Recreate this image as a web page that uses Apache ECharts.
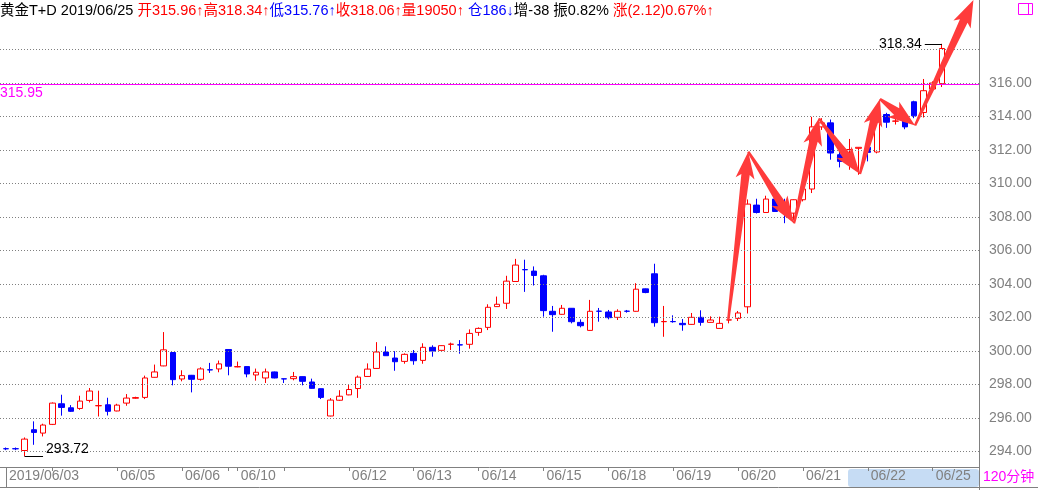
<!DOCTYPE html>
<html><head><meta charset="utf-8">
<script src="https://cdn.jsdelivr.net/npm/echarts@6/dist/echarts.min.js"></script>
<style>html,body{margin:0;padding:0;background:#fff}#c{width:1038px;height:490px}</style>
</head><body><div id="c"></div>
<script>
// ---- data (120-minute bars, 黄金T+D) ----
const opens = [294.17,294.17,294.06,295.30,295.10,295.62,296.85,296.61,296.57,297.05,
296.73,296.79,296.42,296.89,297.18,297.23,298.43,299.11,299.91,298.33,
298.55,298.31,298.88,298.93,300.09,299.05,299.07,298.57,298.39,298.75,
298.34,298.35,298.47,298.15,297.75,296.12,297.06,297.38,297.76,298.48,
298.96,299.94,299.58,299.38,299.86,299.44,300.22,300.04,300.40,300.37,
300.40,301.11,301.41,302.65,302.85,304.15,304.86,304.77,304.49,302.37,
302.19,302.55,301.71,301.23,302.38,302.33,302.01,302.38,302.37,303.71,
304.61,301.75,301.76,301.65,301.59,302.01,301.71,301.35,301.85,301.95,
302.64,308.71,308.27,309.07,308.50,308.23,309.03,309.67,313.38,313.62,
311.72,312.02,312.10,312.16,311.88,314.12,313.72,313.74,314.88,314.24,
315.64,315.96];
const closes = [294.16,294.16,294.74,295.14,295.58,296.89,296.63,296.40,297.01,297.61,
296.74,296.40,296.77,297.19,297.22,298.39,298.75,300.07,298.29,298.53,
298.31,298.93,298.87,299.23,299.09,299.07,298.63,298.73,298.75,298.39,
298.33,298.47,298.19,297.77,297.23,297.07,297.30,297.70,298.44,298.92,
299.94,299.72,299.36,299.80,299.42,300.22,300.00,300.32,300.41,300.36,
301.05,301.35,302.61,302.79,304.17,305.13,304.85,304.51,302.41,302.17,
302.55,301.75,301.51,302.37,302.37,301.99,302.37,302.37,303.69,303.49,
301.69,301.76,301.75,301.57,302.01,301.71,301.85,301.65,301.86,302.27,
308.77,308.27,309.07,308.33,308.30,309.03,309.67,313.38,313.62,311.82,
311.32,312.03,312.16,311.86,314.10,313.66,313.73,313.38,314.04,315.54,
316.00,318.06];
const lows = [294.08,294.08,293.72,294.40,294.90,295.58,296.14,296.36,296.49,296.93,
296.09,296.15,296.40,296.73,297.15,297.13,298.41,299.09,297.95,298.19,
297.53,298.23,298.69,298.73,298.55,299.03,298.43,298.23,298.09,298.37,
298.09,298.25,297.95,297.75,297.13,296.10,297.02,297.36,297.20,298.46,
298.94,299.70,298.82,299.24,299.18,299.24,299.66,300.02,300.06,299.84,
300.14,300.91,301.25,302.63,302.51,304.13,303.53,303.91,302.05,301.15,
302.17,301.65,301.41,301.21,301.75,301.89,301.85,302.29,302.35,303.45,
301.45,300.85,301.69,301.21,301.57,301.51,301.69,301.33,301.65,301.79,
302.24,308.21,308.25,308.31,307.63,307.83,308.93,309.43,313.20,311.42,
310.96,310.82,310.52,311.32,311.80,313.32,313.52,313.24,313.90,313.94,
315.58,315.76];
const highs = [294.24,294.24,294.84,295.80,295.66,296.93,297.39,296.77,297.33,297.79,
297.63,297.21,296.85,297.43,297.27,298.53,299.19,301.13,299.93,298.85,
298.57,299.03,299.29,299.43,300.10,299.37,299.08,298.95,298.95,298.77,
298.35,298.75,298.48,298.35,297.76,297.19,297.66,298.02,298.54,299.26,
300.53,300.28,299.99,299.86,300.06,300.46,300.34,300.34,300.50,300.65,
301.29,301.41,302.79,303.25,304.49,305.50,305.45,305.05,304.55,302.69,
302.75,302.56,301.89,303.05,302.57,302.45,302.49,302.45,304.05,303.73,
305.21,302.69,302.13,301.91,302.27,302.43,302.07,302.05,302.05,302.39,
309.05,309.09,309.27,309.09,309.09,309.05,309.69,313.98,313.90,313.82,
311.92,312.66,312.18,312.18,314.30,314.22,313.92,313.76,314.94,316.24,
316.10,318.34];

const yTicks = [294,296,298,300,302,304,306,308,310,312,314,316,318];
const xTickIdx = [0,5,12,19,24,25,30,37,44,51,58,65,72,79,86,93,100];
const xLabelIdx = [0,12,19,25,37,44,51,58,65,72,79,86,93,100];
const xLabelText = ['2019/06/03','06/05','06/06','06/10','06/12','06/13','06/14','06/15','06/18','06/19','06/20','06/21','06/22','06/25'];
const refPrice = 315.95;
// hand-drawn arrow path (bar index, price)
const arrowPts = [[77.94,301.85],[80.10,311.90],[85.03,307.62],[87.73,313.89],[92.15,310.57],[94.31,315.04],[98.10,313.46],[104.40,320.95]];
const headerName = '黄金T+D 2019/06/25 ';
const headerVol = '量19050↑';
const headerOI = '仓186↓';
const headerMisc = '增-38 振0.82% ';
const headerChg = '涨(2.12)0.67%↑';

// ---- build ----
const FONT = "'Liberation Sans','Noto Sans CJK SC',sans-serif";
const candles = opens.map((o,i)=>[i,o,closes[i],lows[i],highs[i]]);
const n = candles.length, last = n-1;
const lastClose = closes[last];
let maxI=0, minI=0;
highs.forEach((h,i)=>{ if(h>highs[maxI]) maxI=i; });
lows.forEach((l,i)=>{ if(l<lows[minI]) minI=i; });
const segs = [];
for (let i=0;i<arrowPts.length-1;i++) segs.push([arrowPts[i][0],arrowPts[i][1],arrowPts[i+1][0],arrowPts[i+1][1]]);
const labelMap = {}; xLabelIdx.forEach((v,i)=>labelMap[v]=xLabelText[i]);
const f2 = v=>v.toFixed(2);

const gridLines = yTicks.map(v=>({
  yAxis: v,
  lineStyle:{color:'#808080', type:[1,2], width:1},
  label:{show: Math.abs(v-lastClose)>0.8, position:'end', distance:10, formatter: f2(v), color:'#808080', fontSize:14, fontFamily:FONT, padding:[3,0,0,0]}
}));

const markData = gridLines.concat([
  { yAxis: refPrice, lineStyle:{color:'#FF00FF', type:'solid', width:1},
    label:{show:true, position:'insideStartBottom', distance:[0,2], formatter:f2(refPrice), color:'#FF00FF', fontSize:14, fontFamily:FONT}},
  { yAxis: lastClose, lineStyle:{opacity:0},
    label:{show:true, position:'end', distance:2, formatter:f2(lastClose), color:'#FF0000', fontSize:14, fontFamily:FONT,
      backgroundColor:'#EDF3EC', padding:[2,5,1,9]}},
  [ {coord:[maxI-1.85, highs[maxI]], lineStyle:{color:'#000', type:'solid', width:1},
      label:{show:true, position:'start', distance:3, formatter:f2(highs[maxI]), color:'#000', fontSize:14, fontFamily:FONT}},
    {coord:[maxI, highs[maxI]]} ],
  [ {coord:[minI, lows[minI]], lineStyle:{color:'#000', type:'solid', width:1},
      label:{show:true, position:'end', distance:3, formatter:f2(lows[minI])+'\n ', lineHeight:15, color:'#000', fontSize:14, fontFamily:FONT}},
    {coord:[minI+2.0, lows[minI]]} ]
]);

const HF = 14.5;
const chart = echarts.init(document.getElementById('c'), null, {renderer:'canvas'});
chart.setOption({
  animation:false,
  backgroundColor:'#fff',
  title:{
    left:0, top:3, padding:0,
    text: '{k|'+headerName+'}{r|开'+f2(opens[last])+'↑高'+f2(highs[last])+'↑}{b|低'+f2(lows[last])+'↑}{r|收'+f2(lastClose)+'↑'+headerVol+'} {b|'+headerOI+'}{k|'+headerMisc+'}{r|'+headerChg+'}',
    textStyle:{fontSize:HF, fontFamily:FONT, fontWeight:'normal', color:'#000', lineHeight:16,
      rich:{
        k:{color:'#000', fontSize:HF, fontFamily:FONT},
        r:{color:'#FF0000', fontSize:HF, fontFamily:FONT},
        b:{color:'#0000FF', fontSize:HF, fontFamily:FONT}
      }}
  },
  grid:{left:0, right:59, top:0, bottom:23, containLabel:false},
  xAxis:{
    type:'value', min:-0.647, max:105.0,
    splitLine:{show:false},
    axisLine:{show:true, onZero:false, lineStyle:{color:'#808080', width:1}},
    axisTick:{show:true, customValues:xTickIdx, length:4, lineStyle:{color:'#808080'}},
    axisLabel:{show:true, customValues:xLabelIdx, formatter:v=>labelMap[v]||'', color:'#808080',
      fontSize:14, fontFamily:FONT, align:'left', margin:2, padding:[0,0,0,3]}
  },
  yAxis:{type:'value', min:293.075, max:320.955, show:false, splitLine:{show:false}},
  series:[
    {
      type:'candlestick',
      data:candles,
      encode:{x:0, y:[1,2,3,4]},
      barWidth:6,
      itemStyle:{color:'#ffffff', color0:'#0000FF', borderColor:'#FF0000', borderColor0:'#0000FF', borderWidth:1},
      emphasis:{disabled:true},
      markLine:{symbol:'none', silent:true, animation:false, data:markData},
      z:2
    },
    {
      type:'custom',
      data:segs,
      encode:{x:[0,2], y:[1,3]},
      clip:false,
      silent:true,
      z:10,
      renderItem:function(params, api){
        const p0 = api.coord([api.value(0), api.value(1)]);
        const p1 = api.coord([api.value(2), api.value(3)]);
        const dx=p1[0]-p0[0], dy=p1[1]-p0[1], L=Math.hypot(dx,dy);
        const ux=dx/L, uy=dy/L, nx=-uy, ny=ux;
        const headLen=23, headW=9.5, w0=1.2, w1=4.2;
        const bx=p1[0]-ux*headLen, by=p1[1]-uy*headLen;
        const pts=[[p0[0]+nx*w0,p0[1]+ny*w0],[bx+nx*w1,by+ny*w1],[bx+nx*headW-ux*4,by+ny*headW-uy*4],p1,
                   [bx-nx*headW-ux*4,by-ny*headW-uy*4],[bx-nx*w1,by-ny*w1],[p0[0]-nx*w0,p0[1]-ny*w0]];
        return {type:'polygon', shape:{points:pts}, style:{fill:'#FF3B3B'}};
      }
    }
  ],
  graphic:[
    {type:'rect', z:-5, shape:{x:848, y:469, width:131, height:18, r:3}, style:{fill:'#C6DCF4'}},
    {type:'line', shape:{x1:979.5, y1:0, x2:979.5, y2:490}, style:{stroke:'#808080', lineWidth:1}},
    {type:'line', shape:{x1:0, y1:487.5, x2:1038, y2:487.5}, style:{stroke:'#808080', lineWidth:1}},
    {type:'line', shape:{x1:6.5, y1:467, x2:6.5, y2:487}, style:{stroke:'#808080', lineWidth:1}},
    {type:'text', x:983, y:477, style:{text:'120分钟', fill:'#FF00FF', font:"14px 'Liberation Sans','Noto Sans CJK SC'", verticalAlign:'middle'}},
    {type:'rect', shape:{x:1018.5, y:3.5, width:14, height:11}, style:{fill:'none', stroke:'#FF00FF', lineWidth:1}},
    {type:'line', shape:{x1:1028.5, y1:3.5, x2:1028.5, y2:14.5}, style:{stroke:'#FF00FF', lineWidth:1}}
  ]
});
</script></body></html>
